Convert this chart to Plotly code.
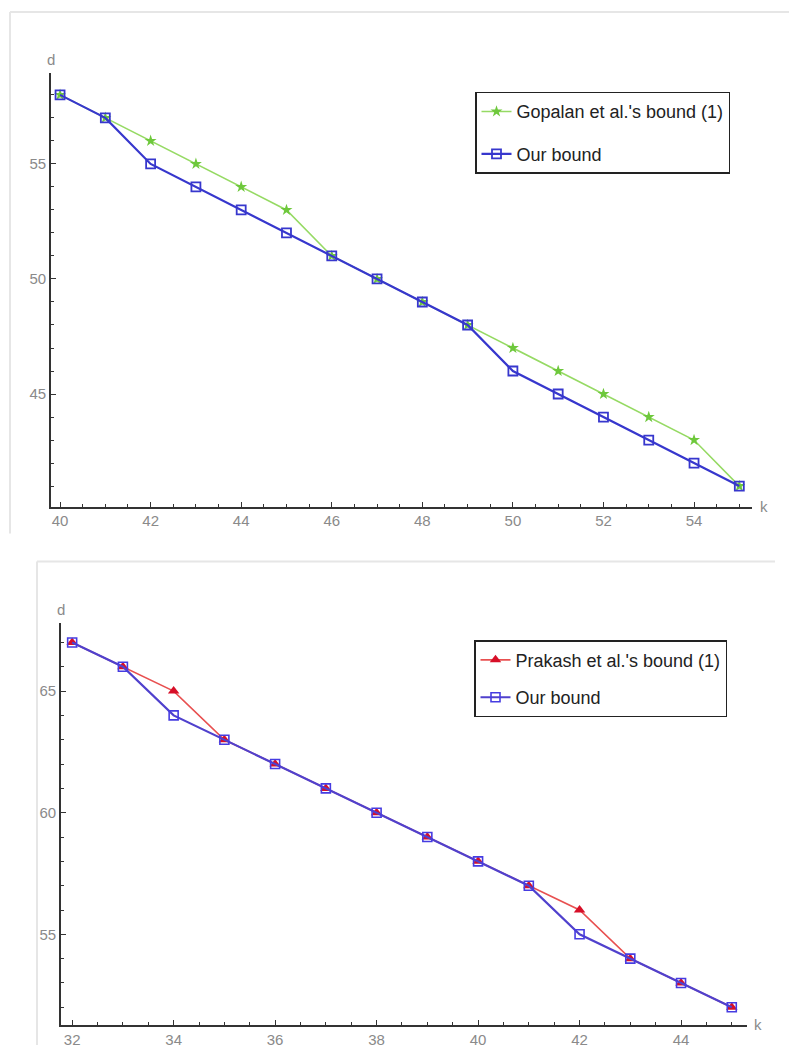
import plotly.graph_objects as go

# ---------------- data ----------------
k_top = [40, 41, 42, 43, 44, 45, 46, 47, 48, 49, 50, 51, 52, 53, 54, 55]
gopalan_d = [58, 57, 56, 55, 54, 53, 51, 50, 49, 48, 47, 46, 45, 44, 43, 41]
our_top_d = [58, 57, 55, 54, 53, 52, 51, 50, 49, 48, 46, 45, 44, 43, 42, 41]

k_bot = [32, 33, 34, 35, 36, 37, 38, 39, 40, 41, 42, 43, 44, 45]
prakash_d = [67, 66, 65, 63, 62, 61, 60, 59, 58, 57, 56, 54, 53, 52]
our_bot_d = [67, 66, 64, 63, 62, 61, 60, 59, 58, 57, 55, 54, 53, 52]

top_names = ["Gopalan et al.'s bound (1)", "Our bound"]
bot_names = ["Prakash et al.'s bound (1)", "Our bound"]

W, H = 789, 1048


def px(x):
    return x / W


def py(y):
    return 1 - y / H


GREEN_LINE = "rgb(150,218,100)"
GREEN_MK = "rgb(110,200,60)"
BLUE = "rgb(55,55,205)"
BLUE_B = "rgb(80,65,205)"
RED_LINE = "rgb(232,80,80)"
RED_MK = "rgb(215,15,40)"

fig = go.Figure()

fig.add_trace(go.Scatter(
    x=k_top, y=gopalan_d, name=top_names[0], mode="lines+markers",
    line=dict(color=GREEN_LINE, width=1.6),
    marker=dict(symbol="star", size=9, color=GREEN_MK),
    xaxis="x", yaxis="y", legend="legend", legendgroup="g1"))
fig.add_trace(go.Scatter(
    x=k_top, y=our_top_d, name=top_names[1], mode="lines+markers",
    line=dict(color=BLUE, width=2.2),
    marker=dict(symbol="square-open", size=9, color=BLUE, line=dict(width=1.8)),
    xaxis="x", yaxis="y", legend="legend", legendgroup="g2"))

fig.add_trace(go.Scatter(
    x=k_bot, y=prakash_d, name=bot_names[0], mode="lines+markers",
    line=dict(color=RED_LINE, width=1.6),
    marker=dict(symbol="triangle-up", size=10, color=RED_MK),
    xaxis="x2", yaxis="y2", legend="legend2", legendgroup="r1"))
fig.add_trace(go.Scatter(
    x=k_bot, y=our_bot_d, name=bot_names[1], mode="lines+markers",
    line=dict(color=BLUE_B, width=2.2),
    marker=dict(symbol="square-open", size=9, color="rgb(70,60,225)", line=dict(width=1.6)),
    xaxis="x2", yaxis="y2", legend="legend2", legendgroup="b2"))

FONT = "Liberation Sans, Arial, sans-serif"
tickfont = dict(family=FONT, size=15, color="#8a8a8a")
axis_common = dict(showline=True, linecolor="#333", linewidth=1.6, showgrid=False,
                   zeroline=False, ticks="inside", ticklen=5, tickwidth=1.4,
                   tickcolor="#333", tickfont=tickfont)

fig.update_layout(
    width=W, height=H, margin=dict(l=0, r=0, t=0, b=0),
    paper_bgcolor="white", plot_bgcolor="white",
    xaxis=dict(domain=[px(51), px(752)], range=[39.8, 55.28], anchor="y",
               tick0=40, dtick=2,
               minor=dict(dtick=0.5, tick0=40, ticks="inside", ticklen=3, tickcolor="#333"),
               **axis_common),
    yaxis=dict(domain=[py(508), py(73)], range=[40.11, 58.96], anchor="x",
               tick0=45, dtick=5,
               minor=dict(dtick=1, tick0=45, ticks="inside", ticklen=3, tickcolor="#333"),
               **axis_common),
    xaxis2=dict(domain=[px(61), px(747)], range=[31.78, 45.3], anchor="y2",
                tick0=32, dtick=2,
                minor=dict(dtick=0.5, tick0=32, ticks="inside", ticklen=3, tickcolor="#333"),
                **axis_common),
    yaxis2=dict(domain=[py(1028), py(625)], range=[51.27, 67.79], anchor="x2",
                tick0=55, dtick=5,
                minor=dict(dtick=1, tick0=55, ticks="inside", ticklen=3, tickcolor="#333"),
                **axis_common),
    legend=dict(x=px(475), y=py(92), xanchor="left", yanchor="top",
                bordercolor="#222", borderwidth=1.5, bgcolor="white",
                font=dict(family=FONT, size=18, color="#222"),
                tracegroupgap=16, traceorder="grouped", entrywidth=222),
    legend2=dict(x=px(474), y=py(642), xanchor="left", yanchor="top",
                 bordercolor="#222", borderwidth=1.5, bgcolor="white",
                 font=dict(family=FONT, size=18, color="#222"),
                 tracegroupgap=11, traceorder="grouped", entrywidth=215),
    showlegend=True,
)

lblfont = dict(family=FONT, size=15, color="#8a8a8a")
for txt, x, y in [("d", 51, 60), ("k", 764, 508), ("d", 61, 611), ("k", 758, 1027)]:
    fig.add_annotation(text=txt, x=px(x), y=py(y), xref="paper", yref="paper",
                       showarrow=False, font=lblfont, xanchor="center", yanchor="middle")

# light gray panel frames
frame = dict(color="#e6e6e6", width=2)
fig.add_shape(type="line", xref="paper", yref="paper", x0=px(10), x1=1, y0=py(12), y1=py(12), line=frame)
fig.add_shape(type="line", xref="paper", yref="paper", x0=px(10), x1=px(10), y0=py(12), y1=py(535), line=frame)
fig.add_shape(type="line", xref="paper", yref="paper", x0=px(37), x1=px(775), y0=py(563), y1=py(563), line=frame)
fig.add_shape(type="line", xref="paper", yref="paper", x0=px(37), x1=px(37), y0=py(563), y1=0, line=frame)

fig.write_html("out.html", config={"displayModeBar": False},
               post_script="document.body.style.margin='0';document.body.style.overflow='hidden';")
